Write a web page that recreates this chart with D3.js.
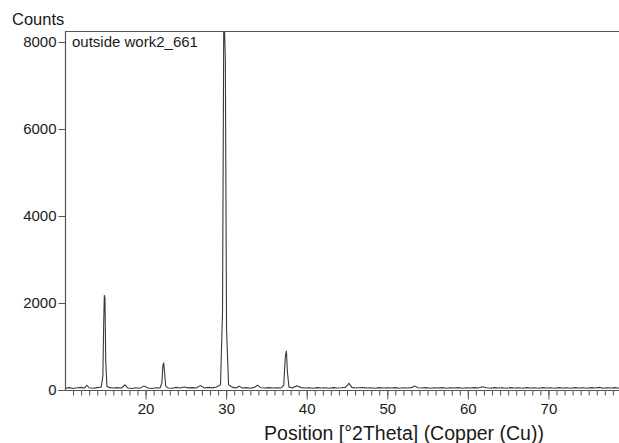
<!DOCTYPE html>
<html>
<head>
<meta charset="utf-8">
<script src="https://cdn.jsdelivr.net/npm/d3@7"></script>
<style>
  body { margin: 0; background: #fff; }
  text { font-family: "Liberation Sans", Arial, sans-serif; fill: #1a1a1a; }
</style>
</head>
<body>
<div id="chart"></div>
<script>
// diffraction pattern
var angles = [10.0, 10.5, 11.0, 11.5, 12.0, 12.4, 12.7, 13.0, 13.5, 14.0, 14.5, 14.7, 14.8, 14.88, 14.96, 15.05, 15.2, 15.5,
  16.0, 16.5, 17.0, 17.45, 17.8, 18.3, 18.8, 19.3, 19.8, 20.3, 20.8, 21.3, 21.8, 22.02, 22.15, 22.25, 22.35, 22.5, 22.8,
  23.3, 23.8, 24.3, 24.8, 25.3, 25.8, 26.3, 26.8, 27.3, 27.8, 28.3, 28.8, 29.3, 29.55, 29.7, 29.8, 29.9, 30.05, 30.3,
  30.8, 31.3, 31.6, 32.0, 32.5, 33.0, 33.5, 33.9, 34.3, 34.8, 35.3, 35.8, 36.3, 36.8, 37.15, 37.35, 37.48, 37.6, 37.8,
  38.2, 38.8, 39.3, 39.8, 40.3, 40.8, 41.3, 41.8, 42.3, 42.8, 43.3, 43.8, 44.3, 44.8, 45.25, 45.6, 46.0, 46.5, 47.0,
  47.5, 48.0, 48.5, 49.0, 49.5, 50.0, 50.5, 51.0, 51.5, 52.0, 52.5, 53.0, 53.4, 53.8, 54.3, 54.8, 55.3, 55.8, 56.3,
  56.8, 57.3, 57.8, 58.3, 58.8, 59.3, 59.8, 60.3, 60.8, 61.3, 61.8, 62.3, 62.8, 63.3, 63.8, 64.3, 64.8, 65.3, 65.8,
  66.3, 66.8, 67.3, 67.8, 68.3, 68.8, 69.3, 69.8, 70.3, 70.8, 71.3, 71.8, 72.3, 72.8, 73.3, 73.8, 74.3, 74.8, 75.3,
  75.8, 76.3, 76.8, 77.3, 77.8, 78.3, 78.8, 79.3, 79.8];
var counts = [40, 55, 35, 50, 60, 45, 110, 50, 40, 55, 70, 320, 1500, 2180, 2120, 700, 90, 55,
  45, 55, 40, 120, 45, 35, 50, 40, 90, 45, 35, 50, 45, 160, 560, 630, 420, 90, 45,
  40, 60, 45, 70, 50, 55, 45, 100, 45, 60, 50, 70, 120, 1800, 8300, 8300, 7600, 1400, 120,
  60, 50, 90, 45, 55, 40, 60, 110, 50, 45, 55, 45, 50, 45, 110, 780, 900, 420, 70,
  50, 95, 55, 45, 50, 40, 55, 45, 50, 40, 55, 45, 50, 60, 150, 60, 45, 50, 55,
  45, 50, 40, 55, 45, 50, 45, 55, 40, 50, 45, 55, 90, 50, 45, 55, 40, 50, 45,
  55, 40, 50, 45, 55, 40, 50, 45, 55, 45, 75, 50, 40, 55, 45, 50, 40, 55, 45,
  50, 40, 55, 45, 50, 40, 55, 45, 50, 40, 55, 45, 50, 40, 55, 45, 50, 40, 55,
  45, 60, 40, 50, 45, 55, 40, 50, 45];

var yTicks = [0, 2000, 4000, 6000, 8000];
var xTicks = [20, 30, 40, 50, 60, 70];
var xMinorTicks = d3.range(11, 80);  // one tick per degree

var width = 619, height = 443;
var margin = { top: 31, right: -10, bottom: 53, left: 65 };

var svg = d3.select('#chart')
  .append('svg')
  .attr('width', width)
  .attr('height', height);

var innerW = width - margin.left - margin.right;
var innerH = height - margin.top - margin.bottom;

var x = d3.scaleLinear()
  .domain([10, 80])
  .range([margin.left, margin.left + innerW]);

var y = d3.scaleLinear()
  .domain([0, 8000])
  .range([height - margin.bottom, height - margin.bottom - 348]);

var data = angles.map(function(a, i) { return { angle: a, count: counts[i] }; });

svg.append('clipPath').attr('id', 'plot')
  .append('rect')
  .attr('x', margin.left).attr('y', margin.top)
  .attr('width', innerW).attr('height', innerH);

var line = d3.line()
  .x(function(d) { return x(d.angle); })
  .y(function(d) { return y(d.count); });

svg.append('path')
  .datum(data)
  .attr('clip-path', 'url(#plot)')
  .attr('fill', 'none')
  .attr('stroke', '#3a3a3a')
  .attr('stroke-width', 1.1)
  .attr('d', line);

// frame: top and left
svg.append('line')
  .attr('x1', margin.left).attr('x2', width)
  .attr('y1', margin.top + 0.5).attr('y2', margin.top + 0.5)
  .attr('stroke', '#555').attr('stroke-width', 1.2);
svg.append('line')
  .attr('x1', margin.left + 0.5).attr('x2', margin.left + 0.5)
  .attr('y1', margin.top).attr('y2', y(0))
  .attr('stroke', '#555').attr('stroke-width', 1.2);

// y axis
var yAxis = d3.axisLeft(y).tickValues(yTicks).tickSize(7).tickPadding(2).tickFormat(d3.format('d'));
var gy = svg.append('g')
  .attr('transform', 'translate(' + (margin.left + 0.5) + ',0)')
  .call(yAxis);
gy.select('.domain').remove();
gy.selectAll('line').attr('stroke', '#555');
gy.selectAll('text').style('font-size', '15px').attr('fill', '#1a1a1a');

// x axis
var xAxisMinor = d3.axisBottom(x).tickValues(xMinorTicks).tickSize(5).tickFormat('');
var gxm = svg.append('g')
  .attr('transform', 'translate(0,' + (y(0) + 0.5) + ')')
  .call(xAxisMinor);
gxm.select('.domain').remove();
gxm.selectAll('line').attr('stroke', '#555');

var xAxis = d3.axisBottom(x).tickValues(xTicks).tickSize(9).tickPadding(4);
var gx = svg.append('g')
  .attr('transform', 'translate(0,' + (y(0) + 0.5) + ')')
  .call(xAxis);
gx.select('.domain').remove();
gx.selectAll('line').attr('stroke', '#555');
gx.selectAll('text').style('font-size', '15px').attr('fill', '#1a1a1a');

svg.append('line')
  .attr('x1', margin.left - 7).attr('x2', width)
  .attr('y1', y(0) + 0.5).attr('y2', y(0) + 0.5)
  .attr('stroke', '#555').attr('stroke-width', 1.2);

// labels
svg.append('text')
  .attr('x', 12).attr('y', 25)
  .style('font-size', '16.5px')
  .text('Counts');

svg.append('text')
  .attr('x', 72).attr('y', 47)
  .style('font-size', '15px')
  .text('outside work2_661');

svg.append('text')
  .attr('x', 404).attr('y', 440)
  .attr('text-anchor', 'middle')
  .style('font-size', '19.5px')
  .text('Position [°2Theta] (Copper (Cu))');
</script>
</body>
</html>
